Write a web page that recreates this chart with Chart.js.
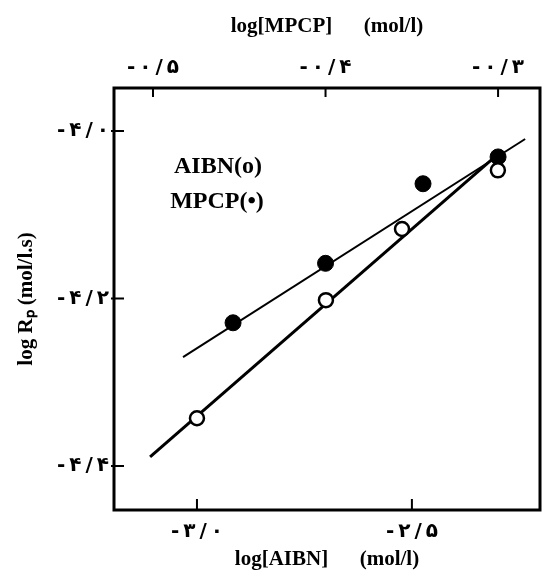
<!DOCTYPE html>
<html>
<head>
<meta charset="utf-8">
<script src="https://cdn.jsdelivr.net/npm/chart.js@4/dist/chart.umd.min.js"></script>
<style>
  html, body { margin: 0; padding: 0; background: #fff; }
  #wrap { width: 544px; height: 578px; }
</style>
</head>
<body>
<div id="wrap"><canvas id="rateChart" width="544" height="578"></canvas></div>
<script>
// tick values
const aibnTicks = [-3.0, -2.5];
const mpcpTicks = [-0.5, -0.4, -0.3];
const rateTicks = [-4.0, -4.2, -4.4];

// measured points: log[AIBN] vs log Rp (open circles)
const aibnX = [-3.0, -2.70, -2.523, -2.30];
const aibnY = [-4.343, -4.202, -4.117, -4.047];

// measured points: log[MPCP] vs log Rp (filled circles)
const mpcpX = [-0.4536, -0.40, -0.3435, -0.30];
const mpcpY = [-4.229, -4.158, -4.063, -4.031];

// fitted lines (end points)
const aibnFitX = [-3.109, -2.307];
const aibnFitY = [-4.389, -4.031];
const mpcpFitX = [-0.4826, -0.2843];
const mpcpFitY = [-4.270, -4.0096];

const faDigits = '۰۱۲۳۴۵۶۷۸۹';
function toPersian(v) {
    const s = v.toFixed(1).replace(/\d/g, d => faDigits[d]).replace('.', '/');
    return s.split('').join('\u2009');
}

const pairs = (xs, ys) => xs.map((x, i) => ({ x: x, y: ys[i] }));

const serif = "'Liberation Serif', 'Times New Roman', serif";
const tickFont = { family: "'DejaVu Sans', sans-serif", size: 20, weight: 'bold' };
const titleFont = { family: serif, size: 21, weight: 'bold' };

// keep the plot box where the reference has it
const noPad = s => { s.paddingLeft = 0; s.paddingRight = 0; s.paddingTop = 0; s.paddingBottom = 0; };

// frame, inward ticks and in-plot legend text
const framePlugin = {
    id: 'frame',
    afterDraw(chart) {
        const ctx = chart.ctx;
        const a = chart.chartArea;
        ctx.save();
        ctx.strokeStyle = '#000';
        ctx.lineWidth = 3;
        ctx.strokeRect(a.left, a.top, a.right - a.left, a.bottom - a.top);
        ctx.lineWidth = 2;
        ctx.beginPath();
        chart.scales.x.ticks.forEach(t => {
            const px = chart.scales.x.getPixelForValue(t.value);
            ctx.moveTo(px, a.bottom); ctx.lineTo(px, a.bottom - 11);
        });
        chart.scales.x2.ticks.forEach(t => {
            const px = chart.scales.x2.getPixelForValue(t.value);
            ctx.moveTo(px, a.top); ctx.lineTo(px, a.top + 9);
        });
        chart.scales.y.ticks.forEach(t => {
            const py = chart.scales.y.getPixelForValue(t.value);
            ctx.moveTo(a.left - 3, py); ctx.lineTo(a.left + 10, py);
        });
        ctx.stroke();

        ctx.fillStyle = '#000';
        ctx.font = 'bold 24px ' + serif;
        ctx.textAlign = 'center';
        ctx.textBaseline = 'middle';
        ctx.fillText('AIBN(o)', 218, 167);
        ctx.fillText('MPCP(•)', 217, 202);
        ctx.restore();
    }
};

new Chart(document.getElementById('rateChart').getContext('2d'), {
    type: 'scatter',
    data: {
        datasets: [
            {
                label: 'AIBN(o)',
                data: pairs(aibnX, aibnY),
                xAxisID: 'x',
                pointRadius: 7,
                pointBorderWidth: 2.5,
                pointBackgroundColor: '#fff',
                pointBorderColor: '#000',
                showLine: false
            },
            {
                label: 'MPCP(•)',
                data: pairs(mpcpX, mpcpY),
                xAxisID: 'x2',
                pointRadius: 8,
                pointBorderWidth: 1,
                pointBackgroundColor: '#000',
                pointBorderColor: '#000',
                showLine: false
            },
            {
                label: 'AIBN fit',
                data: pairs(aibnFitX, aibnFitY),
                xAxisID: 'x',
                showLine: true,
                borderColor: '#000',
                borderWidth: 3,
                pointRadius: 0
            },
            {
                label: 'MPCP fit',
                data: pairs(mpcpFitX, mpcpFitY),
                xAxisID: 'x2',
                showLine: true,
                borderColor: '#000',
                borderWidth: 2,
                pointRadius: 0
            }
        ]
    },
    options: {
        responsive: false,
        animation: false,
        layout: { autoPadding: false, padding: { left: 0, right: 4, top: 0, bottom: 0 } },
        plugins: {
            legend: { display: false },
            tooltip: { enabled: false }
        },
        scales: {
            x: {
                type: 'linear',
                position: 'bottom',
                min: -3.193,
                max: -2.202,
                afterBuildTicks: s => { s.ticks = aibnTicks.map(v => ({ value: v })); },
                afterFit: s => { s.height = 68; noPad(s); },
                grid: { display: false, drawTicks: false },
                border: { display: false },
                ticks: { color: '#000', font: tickFont, padding: 10, callback: v => toPersian(v), maxRotation: 0 },
                title: { display: true, text: 'log[AIBN]      (mol/l)', color: '#000', font: titleFont, padding: { top: 0, bottom: 6 } }
            },
            x2: {
                type: 'linear',
                position: 'top',
                min: -0.5226,
                max: -0.2757,
                afterBuildTicks: s => { s.ticks = mpcpTicks.map(v => ({ value: v })); },
                afterFit: s => { s.height = 88; noPad(s); },
                grid: { display: false, drawTicks: false },
                border: { display: false },
                ticks: { color: '#000', font: tickFont, padding: 8, callback: v => toPersian(v), maxRotation: 0 },
                title: { display: true, text: 'log[MPCP]      (mol/l)', color: '#000', font: titleFont, padding: { top: 14, bottom: 0 } }
            },
            y: {
                type: 'linear',
                position: 'left',
                min: -4.4525,
                max: -3.9487,
                afterBuildTicks: s => { s.ticks = rateTicks.map(v => ({ value: v })); },
                afterFit: s => { s.width = 114; noPad(s); },
                grid: { display: false, drawTicks: false },
                border: { display: false },
                ticks: { color: '#000', font: tickFont, padding: 5, callback: v => toPersian(v) },
                title: { display: true, text: 'log Rₚ (mol/l.s)', color: '#000', font: titleFont, padding: { top: 14, bottom: 0 } }
            }
        }
    },
    plugins: [framePlugin]
});
</script>
</body>
</html>
